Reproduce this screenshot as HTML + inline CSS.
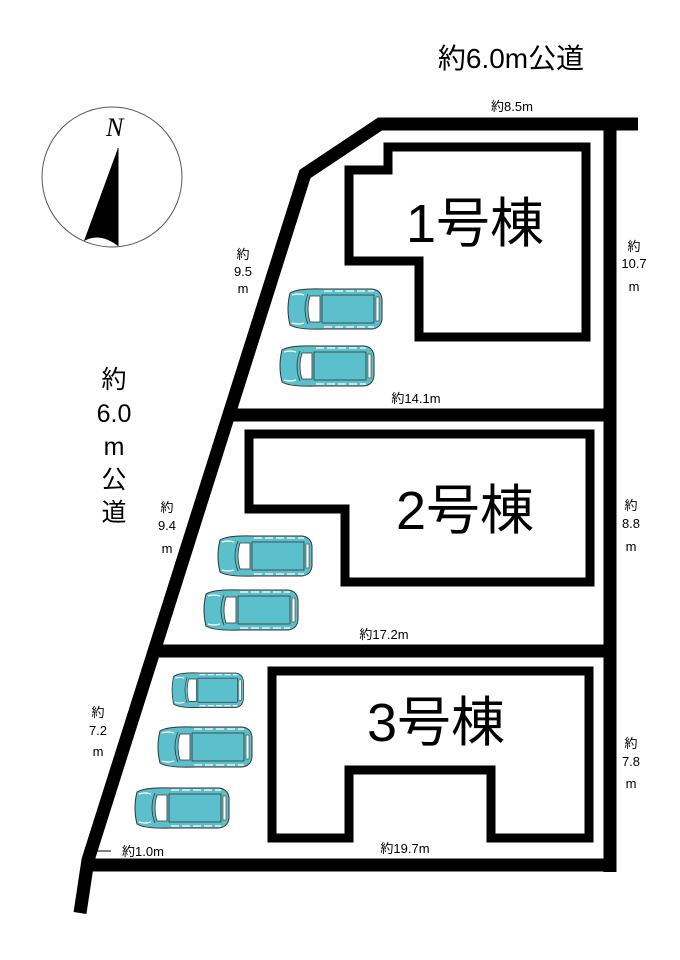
<!DOCTYPE html>
<html><head><meta charset="utf-8"><style>
html,body{margin:0;padding:0;background:#fff;}
svg{display:block;}
text{font-family:"Liberation Sans","Noto Sans CJK JP",sans-serif;fill:#000;}
</style></head><body>
<svg width="680" height="960" viewBox="0 0 680 960" xmlns="http://www.w3.org/2000/svg">
<defs>
<g id="car">
  <path d="M6,4 Q2,20 6,36 Q14,41 40,40 L88,40 Q97,39 98,30 L98,10 Q97,1 88,0 L40,0 Q14,-1 6,4 Z" fill="#5cc0cc" stroke="#333" stroke-width="1"/>
  <path d="M24,5 Q18,20 24,35" fill="none" stroke="#333" stroke-width="0.8"/>
  <path d="M26,7 Q22,20 26,33 L36,33 L36,7 Z" fill="#fff" stroke="#333" stroke-width="0.8"/>
  <rect x="38" y="6" width="52" height="28" fill="#5cc0cc" stroke="#333" stroke-width="0.8"/>
  <line x1="40" y1="2" x2="90" y2="2" stroke="#fff" stroke-width="1.2" stroke-dasharray="8 3"/>
  <line x1="40" y1="38" x2="90" y2="38" stroke="#fff" stroke-width="1.2" stroke-dasharray="8 3"/>
  <rect x="92" y="8" width="3" height="24" fill="#fff" stroke="#333" stroke-width="0.6"/>
  <path d="M8,6 Q14,4 20,6 M8,34 Q14,36 20,34" fill="none" stroke="#fff" stroke-width="1.2"/>
</g>
</defs>

<circle cx="112" cy="177" r="70" fill="#fff" stroke="#555" stroke-width="1"/>
<text x="106" y="136" font-style="italic" font-size="26" style="font-family:'Liberation Serif',serif">N</text>
<path d="M118,148 L84,241 Q100,232 118,246 Z" fill="#000"/>
<line x1="118" y1="148" x2="118" y2="246" stroke="#000" stroke-width="1"/>

<g fill="none" stroke="#000" stroke-width="13" stroke-linejoin="miter">
  <polyline points="638,124 380,124 305,174 88,860 80,913"/>
  <line x1="610" y1="118" x2="610" y2="872"/>
  <line x1="86" y1="865" x2="616" y2="865"/>
  <line x1="232" y1="415" x2="616" y2="415"/>
  <line x1="152" y1="651" x2="616" y2="651"/>
</g>

<g fill="none" stroke="#000" stroke-width="9" stroke-linejoin="miter">
  <polygon points="388,147 586,147 586,337 419,337 419,261 349,261 349,170 388,170"/>
  <polygon points="249,434 590,434 590,582 345,582 345,509 249,509"/>
  <polygon points="272,671 589,671 589,838 491,838 491,770 349,770 349,838 272,838"/>
</g>

<text x="475" y="242" font-size="54" text-anchor="middle">1号棟</text>
<text x="465" y="529" font-size="54" text-anchor="middle">2号棟</text>
<text x="436" y="741" font-size="54" text-anchor="middle">3号棟</text>

<use href="#car" transform="translate(284,289)"/>
<use href="#car" transform="translate(276,346)"/>
<use href="#car" transform="translate(214,536)"/>
<use href="#car" transform="translate(200,590)"/>
<use href="#car" transform="translate(169,673) scale(0.76,0.86)"/>
<use href="#car" transform="translate(154,727)"/>
<use href="#car" transform="translate(131,788)"/>

<text x="511" y="68" font-size="28" text-anchor="middle">約6.0m公道</text>
<g font-size="25" text-anchor="middle">
  <text x="114" y="388">約</text>
  <text x="114" y="422">6.0</text>
  <text x="114" y="455">m</text>
  <text x="114" y="488">公</text>
  <text x="114" y="521">道</text>
</g>

<g font-size="13" text-anchor="middle">
  <text x="512" y="111">約8.5m</text>
  <text x="243" y="259">約</text>
  <text x="243" y="276">9.5</text>
  <text x="243" y="293">m</text>
  <text x="634" y="251">約</text>
  <text x="634" y="268">10.7</text>
  <text x="634" y="291">m</text>
  <text x="416" y="403">約14.1m</text>
  <text x="167" y="512">約</text>
  <text x="167" y="530">9.4</text>
  <text x="167" y="553">m</text>
  <text x="631" y="510">約</text>
  <text x="631" y="528">8.8</text>
  <text x="631" y="551">m</text>
  <text x="384" y="639">約17.2m</text>
  <text x="98" y="717">約</text>
  <text x="98" y="735">7.2</text>
  <text x="98" y="756">m</text>
  <text x="631" y="748">約</text>
  <text x="631" y="766">7.8</text>
  <text x="631" y="788">m</text>
  <text x="405" y="853">約19.7m</text>
  <text x="143" y="856">約1.0m</text>
</g>
<line x1="95" y1="851" x2="111" y2="851" stroke="#000" stroke-width="1"/>
</svg>
</body></html>
